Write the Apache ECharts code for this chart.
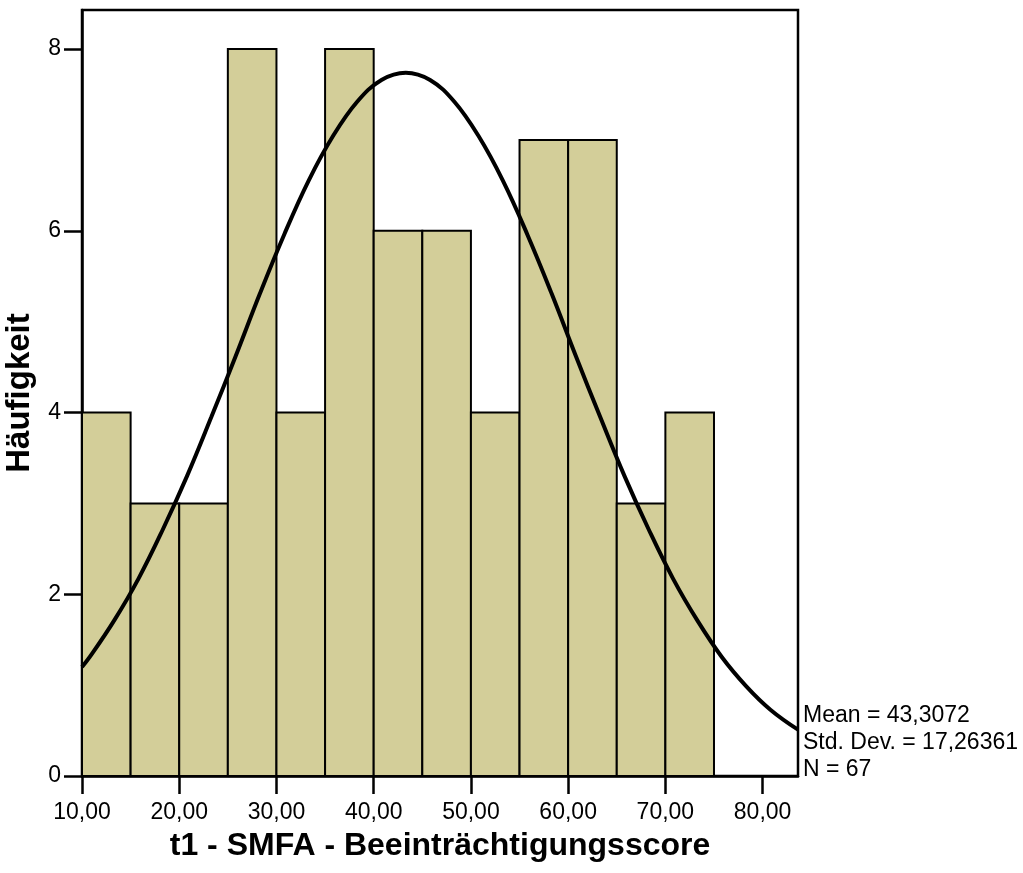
<!DOCTYPE html>
<html>
<head>
<meta charset="utf-8">
<script src="https://cdn.jsdelivr.net/npm/echarts@6/dist/echarts.min.js"></script>
<style>
  html, body { margin: 0; padding: 0; background: #fff; }
  #chart { width: 1023px; height: 873px; }
</style>
</head>
<body>
<div id="chart"></div>
<script>
// Histogramm: Klassengrenzen und Häufigkeiten
var binLower = [10, 15, 20, 25, 30, 35, 40, 45, 50, 55, 60, 65, 70];
var binUpper = [15, 20, 25, 30, 35, 40, 45, 50, 55, 60, 65, 70, 75];
var counts = [4, 3, 3, 8, 4, 8, 6, 6, 4, 7, 7, 3, 4];

// Normalverteilungskurve (Stützstellen um den Mittelwert)
var curveX = [10, 10.8, 13.3, 15.8, 18.3, 20.8, 23.3, 25.8, 28.3, 30.8, 33.3, 35.8, 38.3, 40.8, 43.3,
              45.8, 48.3, 50.8, 53.3, 55.8, 58.3, 60.8, 63.3, 65.8, 68.3, 70.8, 73.3, 75.8, 78.3, 80.8, 83.64];
var curveY = [1.20, 1.31, 1.71, 2.17, 2.71, 3.30, 3.95, 4.62, 5.31, 5.96, 6.55, 7.04, 7.42, 7.66, 7.74,
              7.66, 7.42, 7.04, 6.55, 5.96, 5.31, 4.62, 3.95, 3.30, 2.71, 2.17, 1.71, 1.31, 0.99, 0.73, 0.51];

var xTicks = [10, 20, 30, 40, 50, 60, 70, 80];
var yTicks = [0, 2, 4, 6, 8];
var statsLines = ['Mean = 43,3072', 'Std. Dev. = 17,26361', 'N = 67'];

var font = 'Arial, "Liberation Sans", sans-serif';

var barData = binLower.map(function(lo, i) {
    return [lo, binUpper[i], counts[i]];
});
var curveData = curveX.map(function(x, i) {
    return [x, curveY[i]];
});

var myChart = echarts.init(document.getElementById('chart'));
var option = {
    animation: false,
    grid: {
        left: 82,
        top: 10,
        right: 225,
        bottom: 97,
        outerBoundsMode: 'none',
        containLabel: false,
        show: true,
        borderColor: '#000',
        borderWidth: 2.5,
        backgroundColor: 'transparent'
    },
    xAxis: {
        type: 'value',
        min: 10,
        max: 83.64,
        interval: 10,
        name: 't1 - SMFA - Beeinträchtigungsscore',
        nameLocation: 'middle',
        nameGap: 54,
        nameTextStyle: { fontFamily: font, fontSize: 32, fontWeight: 'bold', color: '#000' },
        axisLine: { show: true, onZero: false, lineStyle: { color: '#000', width: 2.5 } },
        axisTick: { show: true, length: 18, lineStyle: { color: '#000', width: 2.5 }, customValues: xTicks },
        axisLabel: {
            fontFamily: font, fontSize: 23, color: '#000', margin: 25,
            customValues: xTicks,
            formatter: function(v) { return v.toFixed(2).replace('.', ','); }
        },
        splitLine: { show: false }
    },
    yAxis: {
        type: 'value',
        min: 0,
        max: 8.43,
        interval: 2,
        name: 'Häufigkeit',
        nameLocation: 'middle',
        nameGap: 46,
        nameTextStyle: { fontFamily: font, fontSize: 33, fontWeight: 'bold', color: '#000' },
        axisLine: { show: true, lineStyle: { color: '#000', width: 2.5 } },
        axisTick: { show: true, length: 18, lineStyle: { color: '#000', width: 2.5 }, customValues: yTicks },
        axisLabel: { fontFamily: font, fontSize: 23, color: '#000', margin: 21, customValues: yTicks },
        splitLine: { show: false }
    },
    series: [{
        type: 'custom',
        data: barData,
        encode: { x: [0, 1], y: 2 },
        renderItem: function(params, api) {
            var p0 = api.coord([api.value(0), 0]);
            var p1 = api.coord([api.value(1), api.value(2)]);
            return {
                type: 'rect',
                shape: { x: p0[0], y: p1[1], width: p1[0] - p0[0], height: p0[1] - p1[1] },
                style: { fill: '#D3CE99', stroke: '#000', lineWidth: 2 }
            };
        },
        z: 2
    }, {
        type: 'line',
        data: curveData,
        smooth: 0.4,
        showSymbol: false,
        lineStyle: { color: '#000', width: 4 },
        z: 3
    }],
    graphic: [{
        type: 'text',
        left: 803,
        top: 702,
        style: {
            text: statsLines.join('\n'),
            font: '23px ' + font,
            fill: '#000',
            lineHeight: 27
        }
    }]
};
myChart.setOption(option);
</script>
</body>
</html>
